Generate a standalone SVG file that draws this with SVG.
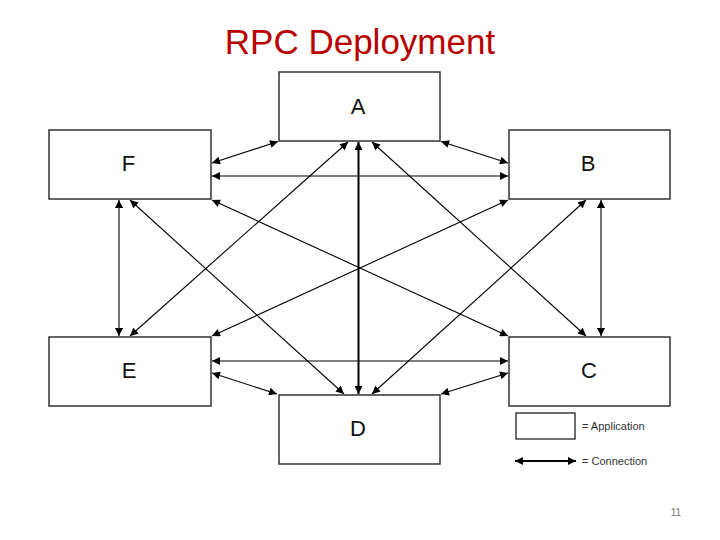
<svg xmlns="http://www.w3.org/2000/svg" width="720" height="540" viewBox="0 0 720 540">
<defs>
<marker id="ah" viewBox="0 0 10 10" refX="10" refY="5" markerWidth="9" markerHeight="8" markerUnits="userSpaceOnUse" orient="auto-start-reverse">
<path d="M0,0 L10,5 L0,10 z" fill="#000"/>
</marker>
</defs>
<style>
.box{fill:#fff;stroke:#333;stroke-width:1.5}
.lbl{font-family:"Liberation Sans",Arial,sans-serif;font-size:22px;fill:#111;text-anchor:middle}
.c{stroke:#000;stroke-width:1.1;fill:none;marker-start:url(#ah);marker-end:url(#ah)}
.leg{font-family:"Liberation Sans",Arial,sans-serif;font-size:11px;fill:#333}
</style>
<rect width="720" height="540" fill="#fff"/>
<text x="360" y="54" font-family="Liberation Sans, Arial, sans-serif" font-size="35" fill="#B80000" text-anchor="middle">RPC Deployment</text>
<g id="connectors">
<line class="c" x1="212" y1="163" x2="278" y2="141.5"/>
<line class="c" x1="212" y1="176" x2="508" y2="176"/>
<line class="c" x1="441" y1="141.5" x2="508" y2="163"/>
<line class="c" x1="119" y1="200" x2="119" y2="336"/>
<line class="c" x1="601" y1="200" x2="601" y2="336"/>
<line class="c" x1="348" y1="142" x2="130" y2="336"/>
<line class="c" x1="372" y1="142" x2="586" y2="336"/>
<line class="c" x1="130" y1="200" x2="344" y2="394"/>
<line class="c" x1="586" y1="200" x2="372" y2="394"/>
<line class="c" x1="358.5" y1="142" x2="358.5" y2="394" style="stroke-width:2"/>
<line class="c" x1="212" y1="200" x2="508" y2="336"/>
<line class="c" x1="508" y1="200" x2="212" y2="336"/>
<line class="c" x1="212" y1="361" x2="508" y2="361"/>
<line class="c" x1="212" y1="373" x2="277" y2="394"/>
<line class="c" x1="508" y1="373" x2="441" y2="394"/>
</g>
<g id="A"><rect class="box" x="279" y="72" width="161" height="69"/><text class="lbl" x="358" y="114">A</text></g>
<g id="F"><rect class="box" x="49" y="130" width="162" height="69"/><text class="lbl" x="128.5" y="171">F</text></g>
<g id="B"><rect class="box" x="509" y="130" width="161" height="69"/><text class="lbl" x="588" y="171">B</text></g>
<g id="E"><rect class="box" x="49" y="337" width="162" height="69"/><text class="lbl" x="129" y="378">E</text></g>
<g id="C"><rect class="box" x="509" y="337" width="161" height="69"/><text class="lbl" x="589" y="378">C</text></g>
<g id="D"><rect class="box" x="279" y="395" width="161" height="69"/><text class="lbl" x="358" y="436">D</text></g>
<g id="legend">
<rect x="516" y="413" width="59" height="26" fill="#fff" stroke="#222" stroke-width="1.3"/>
<text class="leg" x="582" y="430">= Application</text>
<line x1="515" y1="461" x2="576" y2="461" stroke="#000" stroke-width="2" marker-start="url(#ah)" marker-end="url(#ah)"/>
<text class="leg" x="582" y="465">= Connection</text>
</g>
<text x="676" y="516" font-family="Liberation Sans, Arial, sans-serif" font-size="10" fill="#777" text-anchor="middle">11</text>
</svg>
